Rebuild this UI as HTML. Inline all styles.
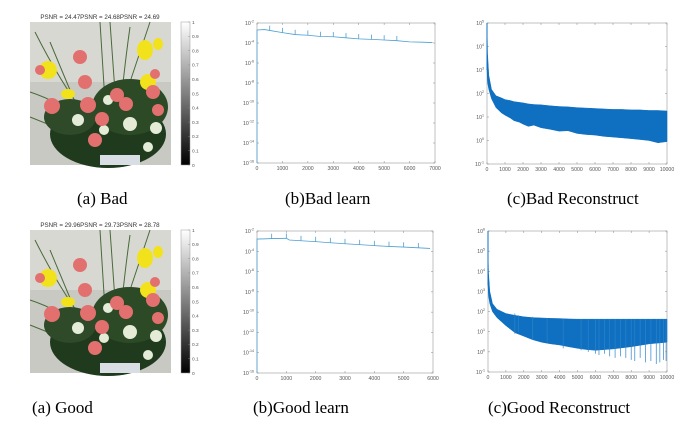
<!DOCTYPE html>
<html><head><meta charset="utf-8">
<style>
html,body{margin:0;padding:0;background:#fff;}
body{width:679px;height:423px;overflow:hidden;position:relative;font-family:"Liberation Sans",sans-serif;}
.cap{position:absolute;font-family:"Liberation Serif",serif;font-size:17px;color:#000;white-space:nowrap;}
</style></head>
<body>
<svg id="fig" width="679" height="423" style="position:absolute;left:0;top:0">
<defs>
<linearGradient id="cbar" x1="0" y1="1" x2="0" y2="0"><stop offset="0" stop-color="#000"/><stop offset="1" stop-color="#fff"/></linearGradient>
<g id="photo">
<rect x="0" y="0" width="141" height="143" fill="#c9c9c4"/>
<rect x="0" y="0" width="141" height="60" fill="#d8d8d3"/>
<g stroke="#4a6a3a" stroke-width="1" fill="none">
<path d="M5 10 Q30 60 60 100"/><path d="M70 0 L75 80"/><path d="M80 0 L85 70"/><path d="M100 5 Q95 40 90 90"/><path d="M0 95 L50 115"/><path d="M0 70 Q30 80 45 95"/><path d="M20 20 L45 80"/><path d="M120 0 Q110 30 100 60"/>
</g>
<ellipse cx="78" cy="112" rx="58" ry="34" fill="#1f3a1c"/>
<ellipse cx="100" cy="85" rx="38" ry="28" fill="#2d4a26"/>
<ellipse cx="40" cy="95" rx="26" ry="18" fill="#2f4a28"/>
<rect x="70" y="133" width="40" height="10" fill="#d9dde4"/>
<g fill="#e4ecd8">
<circle cx="48" cy="98" r="6"/><circle cx="100" cy="102" r="7"/><circle cx="126" cy="106" r="6"/><circle cx="78" cy="78" r="5"/><circle cx="74" cy="108" r="5"/><circle cx="118" cy="125" r="5"/>
</g>
<g fill="#f2e21c">
<ellipse cx="115" cy="28" rx="8" ry="10"/><ellipse cx="118" cy="60" rx="8" ry="8"/><ellipse cx="18" cy="48" rx="9" ry="9"/><ellipse cx="38" cy="72" rx="7" ry="5"/><ellipse cx="128" cy="22" rx="5" ry="6"/>
</g>
<g fill="#e2706e">
<circle cx="50" cy="35" r="7"/><circle cx="55" cy="60" r="7"/><circle cx="22" cy="84" r="8"/><circle cx="58" cy="83" r="8"/><circle cx="87" cy="73" r="7"/><circle cx="123" cy="70" r="7"/><circle cx="96" cy="82" r="7"/><circle cx="72" cy="97" r="7"/><circle cx="65" cy="118" r="7"/><circle cx="128" cy="88" r="6"/><circle cx="125" cy="52" r="5"/><circle cx="10" cy="48" r="5"/>
</g>
</g>
</defs>
</svg>

<div class="cap" style="left:77px;top:189px">(a) Bad</div>
<div class="cap" style="left:285px;top:189px">(b)Bad learn</div>
<div class="cap" style="left:507px;top:189px">(c)Bad Reconstruct</div>
<div class="cap" style="left:32px;top:398px">(a) Good</div>
<div class="cap" style="left:253px;top:398px">(b)Good learn</div>
<div class="cap" style="left:488px;top:398px">(c)Good Reconstruct</div>

<script>
// ---- data ----
const psnrBad = ["24.47","24.68","24.69"];
const psnrGood = ["29.96","29.73","28.78"];
const cbarTicks = [0,0.1,0.2,0.3,0.4,0.5,0.6,0.7,0.8,0.9,1];

const learnBadX = [0,300,500,1000,1500,2000,2500,3000,3500,4000,4500,5000,5500,6000,6500,6900];
const learnBadY = [2e-3,2.2e-3,1.8e-3,1.1e-3,7e-4,6e-4,4.5e-4,4.2e-4,3.3e-4,2.6e-4,2.3e-4,2e-4,1.7e-4,1.3e-4,1.2e-4,1.1e-4];
const learnBadSpikes = [500,1000,1500,2000,2500,3000,3500,4000,4500,5000,5500];
const learnBadXTicks = [0,1000,2000,3000,4000,5000,6000,7000];

const learnGoodX = [0,300,500,1000,1100,1500,2000,2500,3000,3500,4000,4500,5000,5500,5900];
const learnGoodY = [1.6e-3,1.7e-3,1.8e-3,1.9e-3,1.3e-3,1.1e-3,9e-4,7e-4,5.5e-4,4.5e-4,3.6e-4,3e-4,2.6e-4,2.2e-4,1.9e-4];
const learnGoodSpikes = [500,1000,1500,2000,2500,3000,3500,4000,4500,5000,5500];
const learnGoodXTicks = [0,1000,2000,3000,4000,5000,6000];
const learnYTicks = [-16,-14,-12,-10,-8,-6,-4,-2];

const recBadX = [0,30,100,250,500,800,1000,1300,1500,1800,2000,2300,2600,3000,3500,4000,4500,5000,5500,6000,6500,7000,7500,8000,8500,9000,9500,10000];
const recBadUpper = [1e5,5e3,600,150,80,65,55,50,45,42,40,36,34,33,30,28,27,25,24,23,22,21,21,20,20,19,19,18];
const recBadLower = [1e3,300,150,60,25,15,12,9,7,6,5,4,4.5,3.5,3,2.5,2.6,2,1.8,1.7,1.5,1.4,1.3,1.2,1.1,1,0.8,0.9];
const recBadXTicks = [0,1000,2000,3000,4000,5000,6000,7000,8000,9000,10000];
const recBadYTicks = [-1,0,1,2,3,4,5];

const recGoodX = [0,30,100,250,500,1000,1500,2000,2500,3000,3500,4000,4500,5000,5500,6000,7000,8000,9000,10000];
const recGoodUpper = [1e5,8e3,1e3,250,130,80,65,55,50,48,46,45,43,42,42,42,42,42,42,42];
const recGoodLower = [2e3,600,250,100,50,20,9,6,4,3,2.5,2.2,1.8,1.5,1.3,1.2,1.4,1.8,2.5,3];
const recGoodSpikeX = [1500,1700,2500,3300,4200,5200,5600,6000,6200,6500,6800,7100,7400,7700,8000,8200,8500,8800,9100,9400,9600,9800,9950];
const recGoodSpikeY = [8,10,4,3,1.5,1.2,1.0,0.8,0.7,0.8,0.6,0.5,0.6,0.5,0.4,0.35,0.5,0.3,0.35,0.25,0.3,0.4,0.35];
const recGoodYTicks = [-1,0,1,2,3,4,5,6];

// ---- helpers ----
const NS = "http://www.w3.org/2000/svg";
const fig = document.getElementById("fig");
function mk(tag, attrs, parent){
  const e = document.createElementNS(NS, tag);
  for (const k in attrs) e.setAttribute(k, attrs[k]);
  (parent||fig).appendChild(e);
  return e;
}
function linScale(d0,d1,r0,r1){return v=>r0+(v-d0)/(d1-d0)*(r1-r0);}
function logScale(e0,e1,r0,r1){return v=>r0+(Math.log10(v)-e0)/(e1-e0)*(r1-r0);}

function axesBox(L,T,R,B,name){
  const g = mk("g",{});
  
  
  mk("rect",{x:L,y:T,width:R-L,height:B-T,fill:"#fff",stroke:"#9a9a9a","stroke-width":0.6},g);
  return g;
}
function xTicks(g,ticks,sx,T,B){
  ticks.forEach(t=>{
    const x=sx(t);
    mk("line",{x1:x,x2:x,y1:B,y2:B-2,stroke:"#888","stroke-width":0.5},g);
    mk("line",{x1:x,x2:x,y1:T,y2:T+2,stroke:"#888","stroke-width":0.5},g);
    const tx=mk("text",{x:x,y:B+7,"font-size":5.2,fill:"#555","text-anchor":"middle"},g);
    tx.textContent=t;
    
    
  });
}
function yLogTicks(g,exps,sy,L,R){
  exps.forEach(e=>{
    const y=sy(Math.pow(10,e));
    mk("line",{x1:L,x2:L+2,y1:y,y2:y,stroke:"#888","stroke-width":0.5},g);
    mk("line",{x1:R,x2:R-2,y1:y,y2:y,stroke:"#888","stroke-width":0.5},g);
    const tx=mk("text",{x:L-3,y:y+2,"font-size":5.2,fill:"#555","text-anchor":"end"},g);
    
    
    const base=document.createElementNS(NS,"tspan"); base.textContent="10"; tx.appendChild(base);
    const sup=document.createElementNS(NS,"tspan"); sup.setAttribute("dy",-2.5); sup.setAttribute("font-size",3.6); sup.textContent=e; tx.appendChild(sup);
  });
}

// ---- image panels ----
function imagePanel(x,y,psnr,name){
  const g=mk("g",{});
  
  
  const t=mk("text",{x:x+70,y:y-3,"font-size":6.2,fill:"#333","text-anchor":"middle"},g);
  t.textContent="PSNR = "+psnr[0]+"PSNR = "+psnr[1]+"PSNR = "+psnr[2];
  
  
  mk("use",{href:"#photo",x:x,y:y},g);
  const cx=x+151, cw=9, ch=143;
  mk("rect",{x:cx,y:y,width:cw,height:ch,fill:"url(#cbar)",stroke:"#999","stroke-width":0.5},g);
  const sc=linScale(0,1,y+ch,y);
  cbarTicks.forEach(v=>{
    const yy=sc(v);
    mk("line",{x1:cx+cw,x2:cx+cw-2,y1:yy,y2:yy,stroke:"#888","stroke-width":0.4},g);
    const tt=mk("text",{x:cx+cw+2,y:yy+1.8,"font-size":4.8,fill:"#555"},g);
    tt.textContent=v;
    
    
  });
}
imagePanel(30,22,psnrBad,"bad-image-panel");
imagePanel(30,230,psnrGood,"good-image-panel");

// ---- learn plots ----
function learnPlot(L,T,R,B,xmax,xs,ys,spikes,xt,name){
  const g=axesBox(L,T,R,B,name);
  const sx=linScale(0,xmax,L,R), sy=logScale(-16,-2,B,T);
  xTicks(g,xt,sx,T,B); yLogTicks(g,learnYTicks,sy,L,R);
  let d="M"+sx(0)+","+sy(1e-16);
  xs.forEach((v,i)=>{d+=" L"+sx(v)+","+sy(ys[i]);});
  const p=mk("path",{d:d,fill:"none",stroke:"#4e9fd2","stroke-width":0.8},g);
  
  
  spikes.forEach(s=>{
    let i=0; while(i<xs.length-1 && xs[i+1]<s) i++;
    const f=(s-xs[i])/(xs[i+1]-xs[i]);
    const v=Math.pow(10,Math.log10(ys[i])+f*(Math.log10(ys[i+1])-Math.log10(ys[i])));
    const l=mk("line",{x1:sx(s),x2:sx(s),y1:sy(v),y2:sy(v*3),stroke:"#4e9fd2","stroke-width":0.8},g);
    
    
  });
}
learnPlot(257,23,435,163,7000,learnBadX,learnBadY,learnBadSpikes,learnBadXTicks,"bad-learn-chart");
learnPlot(257,231,433,373,6000,learnGoodX,learnGoodY,learnGoodSpikes,learnGoodXTicks,"good-learn-chart");

// ---- reconstruct plots ----
function recPlot(L,T,R,B,emax,xs,up,lo,yt,sxArr,syArr,name){
  const g=axesBox(L,T,R,B,name);
  const sx=linScale(0,10000,L,R), sy=logScale(-1,emax,B,T);
  xTicks(g,recBadXTicks,sx,T,B); yLogTicks(g,yt,sy,L,R);
  let d="";
  xs.forEach((v,i)=>{d+=(i?" L":"M")+sx(v)+","+sy(up[i]);});
  for(let i=xs.length-1;i>=0;i--) d+=" L"+sx(xs[i])+","+sy(lo[i]);
  d+="Z";
  const p=mk("path",{d:d,fill:"#0f6fc0",stroke:"#0f6fc0","stroke-width":0.5},g);
  
  
  const sp=mk("path",{d:"M"+sx(0)+","+sy(Math.pow(10,emax))+" L"+sx(0)+","+sy(lo[0]),stroke:"#0f6fc0","stroke-width":1},g);
  
  
  sxArr.forEach((x,i)=>{
    let j=0; while(j<xs.length-1 && xs[j+1]<x) j++;
    const l=mk("line",{x1:sx(x),x2:sx(x),y1:sy(up[j]),y2:sy(syArr[i]),stroke:"#2a84cc","stroke-width":0.7},g);
    
    
  });
}
recPlot(487,23,667,164,5,recBadX,recBadUpper,recBadLower,recBadYTicks,[],[],"bad-reconstruct-chart");
recPlot(488,231,667,372,6,recGoodX,recGoodUpper,recGoodLower,recGoodYTicks,recGoodSpikeX,recGoodSpikeY,"good-reconstruct-chart");
</script>
</body></html>
